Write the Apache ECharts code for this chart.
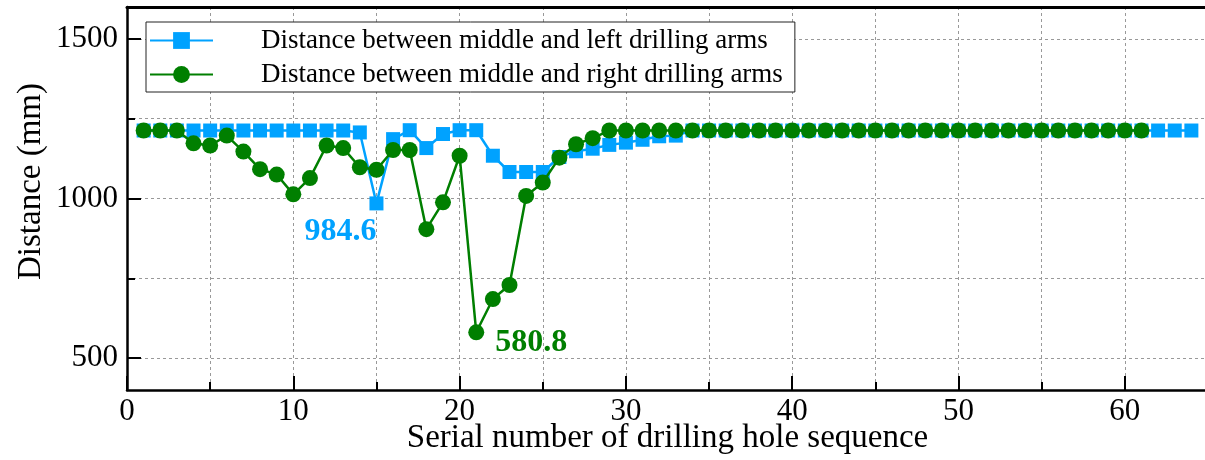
<!DOCTYPE html>
<html>
<head>
<meta charset="utf-8">
<script src="https://cdn.jsdelivr.net/npm/echarts@6/dist/echarts.min.js"></script>
<style>
  html, body { margin: 0; padding: 0; background: #fff; }
  #chart { width: 1205px; height: 460px; }
</style>
</head>
<body>
<div id="chart"></div>
<script>
// Hole-to-hole distances between the middle drilling arm and its neighbours (mm),
// listed in drilling order starting from hole 1.
const leftArmDistance = [
  1213, 1213, 1213, 1213, 1213, 1213, 1213, 1213, 1213, 1213,
  1213, 1213, 1213, 1207, 984.6, 1186, 1214, 1158, 1202, 1214,
  1214, 1134, 1083, 1083, 1083, 1130, 1148, 1156, 1168, 1175,
  1184, 1195, 1197, 1213, 1213, 1213, 1213, 1213, 1213, 1213,
  1213, 1213, 1213, 1213, 1213, 1213, 1213, 1213, 1213, 1213,
  1213, 1213, 1213, 1213, 1213, 1213, 1213, 1213, 1213, 1213,
  1213, 1213, 1213, 1213
];
const rightArmDistance = [
  1213, 1213, 1213, 1173, 1166, 1197, 1147, 1092, 1075, 1013,
  1064, 1166, 1158, 1098, 1090, 1152, 1152, 904, 988, 1134,
  580.8, 685, 729, 1008, 1050, 1128, 1170, 1189, 1213, 1213,
  1213, 1213, 1213, 1213, 1213, 1213, 1213, 1213, 1213, 1213,
  1213, 1213, 1213, 1213, 1213, 1213, 1213, 1213, 1213, 1213,
  1213, 1213, 1213, 1213, 1213, 1213, 1213, 1213, 1213, 1213,
  1213
];
const seriesNames = [
  'Distance between middle and left drilling arms',
  'Distance between middle and right drilling arms'
];
const yMajorTicks = [500, 1000, 1500];
const yMinorTicks = [500, 750, 1000, 1250, 1500];
const xAxisTitle = 'Serial number of drilling hole sequence';
const yAxisTitle = 'Distance (mm)';

const SERIF = "'Liberation Serif', 'Times New Roman', serif";
const BLUE = '#00a2ff';
const GREEN = '#007f00';

// Turn a value list into [hole number, distance] pairs; the minimum of each
// series carries its value as a label.
function toPoints(values, labelStyle) {
  let minIdx = 0;
  values.forEach((v, i) => { if (v < values[minIdx]) minIdx = i; });
  return values.map((v, i) => {
    const item = { value: [i + 1, v] };
    if (i === minIdx) item.label = labelStyle;
    return item;
  });
}

const minLabelBase = {
  show: true,
  fontFamily: SERIF,
  fontWeight: 'bold',
  fontSize: 32,
  formatter: p => String(p.value[1])
};

const gridDash = { color: '#999', width: 1, type: [3, 3] };

const chart = echarts.init(document.getElementById('chart'), null, { renderer: 'canvas' });
chart.setOption({
  backgroundColor: '#fff',
  animation: false,
  textStyle: { fontFamily: SERIF },
  grid: {
    left: 127, right: -3, top: 7, bottom: 70,
    outerBoundsMode: 'none',
    containLabel: false
  },
  legend: {
    left: 146, top: 22,
    orient: 'vertical',
    backgroundColor: '#fff',
    borderColor: '#222',
    borderWidth: 1,
    borderRadius: 0,
    padding: [5, 12, 4, 3],
    itemGap: 7,
    itemWidth: 63,
    itemHeight: 21,
    textStyle: { fontFamily: SERIF, fontSize: 27, color: '#000', padding: [0, 0, 0, 43] },
    data: seriesNames
  },
  xAxis: [
    {
      type: 'value',
      position: 'bottom',
      min: 0, max: 65, interval: 10,
      name: xAxisTitle,
      nameLocation: 'middle',
      nameGap: 32,
      nameMoveOverlap: false,
      nameTextStyle: { fontFamily: SERIF, fontSize: 33, color: '#000' },
      axisLine: { onZero: false, lineStyle: { color: '#000', width: 2.5 } },
      axisTick: { inside: true, length: 14, lineStyle: { color: '#000', width: 2 } },
      minorTick: { show: true, splitNumber: 2, length: 8, lineStyle: { color: '#000', width: 2 } },
      axisLabel: {
        fontFamily: SERIF, fontSize: 31, color: '#000', margin: 6,
        formatter: v => (v % 10 === 0 ? String(v) : '')
      },
      splitLine: { show: true, lineStyle: gridDash },
      minorSplitLine: { show: true, lineStyle: gridDash }
    },
    {
      // top frame line of the plot
      type: 'value',
      position: 'top',
      min: 0, max: 65,
      axisLine: { onZero: false, lineStyle: { color: '#000', width: 3 } },
      axisTick: { show: false },
      axisLabel: { show: false },
      splitLine: { show: false }
    }
  ],
  yAxis: [
    {
      type: 'value',
      position: 'left',
      min: 400, max: 1600,
      name: yAxisTitle,
      nameLocation: 'middle',
      nameGap: 79,
      nameMoveOverlap: false,
      nameRotate: 90,
      nameTextStyle: { fontFamily: SERIF, fontSize: 33, color: '#000', padding: [0, 0, 0, 34] },
      axisLine: { onZero: false, lineStyle: { color: '#000', width: 2.5 } },
      axisTick: { inside: true, length: 14, customValues: yMajorTicks, lineStyle: { color: '#000', width: 2 } },
      axisLabel: {
        fontFamily: SERIF, fontSize: 31, color: '#000', margin: 9,
        customValues: yMajorTicks, formatter: v => String(v)
      },
      splitLine: { show: false }
    },
    {
      type: 'value',
      position: 'left',
      offset: 0,
      min: 400, max: 1600,
      axisLine: { show: false },
      axisTick: { inside: true, length: 8, customValues: yMinorTicks, lineStyle: { color: '#000', width: 2 } },
      axisLabel: { show: false },
      splitLine: { show: true, lineStyle: gridDash }
    }
  ],
  series: [
    {
      name: seriesNames[0],
      type: 'line',
      yAxisIndex: 0,
      symbol: 'rect',
      symbolSize: 14,
      itemStyle: { color: BLUE },
      lineStyle: { color: BLUE, width: 2.5 },
      data: toPoints(leftArmDistance, Object.assign({}, minLabelBase, {
        color: BLUE, position: 'inside', offset: [-36, 28]
      })),
      z: 3
    },
    {
      name: seriesNames[1],
      type: 'line',
      yAxisIndex: 0,
      symbol: 'circle',
      symbolSize: 16,
      itemStyle: { color: GREEN },
      lineStyle: { color: GREEN, width: 2.5 },
      data: toPoints(rightArmDistance, Object.assign({}, minLabelBase, {
        color: GREEN, position: 'inside', offset: [55, 10]
      })),
      z: 4
    }
  ]
});
</script>
</body>
</html>
